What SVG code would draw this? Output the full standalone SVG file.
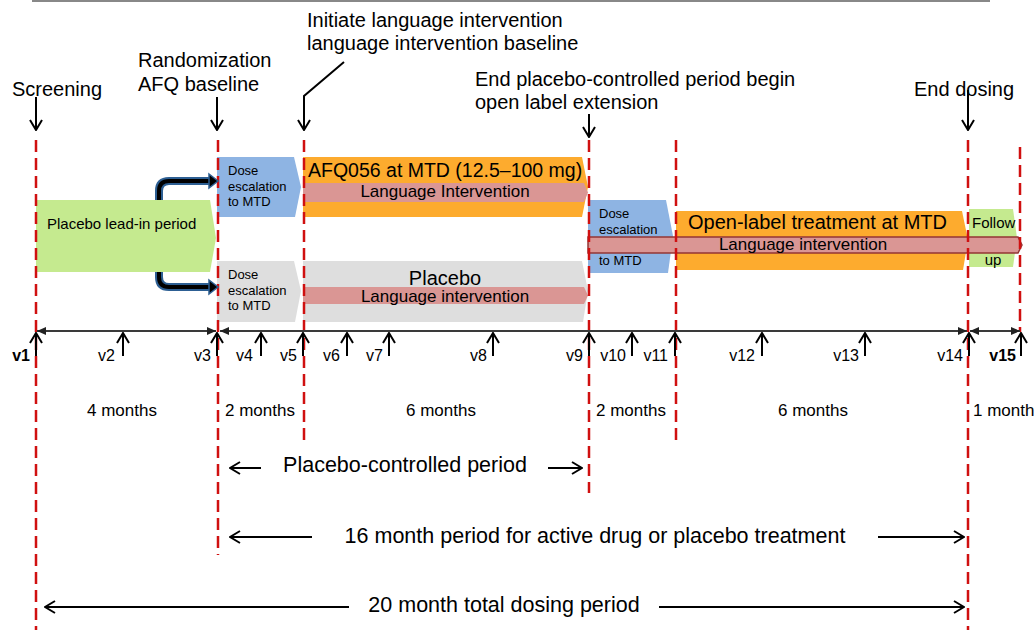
<svg xmlns="http://www.w3.org/2000/svg" width="1036" height="630" viewBox="0 0 1036 630">
<style>
text{font-family:"Liberation Sans",Arial,sans-serif;fill:#000}
.h{font-size:20px}
.s{font-size:13px}
.m{font-size:17px}
.v{font-size:16px}
.b{font-size:21.5px}
.dash{stroke:#d01010;stroke-width:2.5;stroke-dasharray:12 6;fill:none}
.arr{stroke:#000;stroke-width:2;fill:none}
.axis{stroke:#3a3a3a;stroke-width:2;fill:none}
.green{fill:#c5ea8f}
.blue{fill:#8eb4e3}
.grey{fill:#dedede}
.orange{fill:#fdab2e}
.pink{fill:#da9694}
</style>
<defs>
<marker id="open" viewBox="0 0 12 14" refX="11" refY="7" markerWidth="12" markerHeight="14" markerUnits="userSpaceOnUse" orient="auto-start-reverse">
<path d="M1,1 L11,7 L1,13" fill="none" stroke="#000" stroke-width="2"/>
</marker>
<marker id="tri" viewBox="0 0 9 8" refX="9" refY="4" markerWidth="9" markerHeight="8" markerUnits="userSpaceOnUse" orient="auto-start-reverse">
<path d="M0,0 L9,4 L0,8 z" fill="#222"/>
</marker>
</defs>

<line x1="32" y1="1" x2="990" y2="1" stroke="#888" stroke-width="2"/>

<!-- nodes -->
<g id="placebo-lead-in">
<polygon class="green" points="36,200 210,200 216,238 210,272 36,272"/>
<text x="47" y="229" style="font-size:15px">Placebo lead-in period</text>
</g>
<g id="dose-escalation-active">
<polygon class="blue" points="217,157 294,157 301,187 295,217 217,217"/>
<text class="s" x="228" y="175">Dose</text>
<text class="s" x="228" y="191">escalation</text>
<text class="s" x="228" y="206">to MTD</text>
</g>
<g id="dose-escalation-placebo">
<polygon class="grey" points="217,261 294,261 301,291 295,322 217,322"/>
<text class="s" x="228" y="279">Dose</text>
<text class="s" x="228" y="295">escalation</text>
<text class="s" x="228" y="310">to MTD</text>
</g>
<g id="afq056">
<polygon class="orange" points="303,157 582,157 588,187 582,217 303,217"/>
<text x="308" y="177" style="font-size:19.5px">AFQ056 at MTD (12.5–100 mg)</text>
<polygon class="pink" points="303,183 584,183 588,192.5 584,202 303,202"/>
<text class="m" x="445" y="197" text-anchor="middle">Language Intervention</text>
</g>
<g id="placebo">
<polygon class="grey" points="303,261 582,261 588,291 583,322 303,322"/>
<text class="h" x="445" y="285" text-anchor="middle">Placebo</text>
<polygon class="pink" points="303,287 584,287 588,295.5 584,304 303,304"/>
<text class="m" x="445" y="302" text-anchor="middle">Language intervention</text>
</g>
<g id="dose-escalation-open">
<polygon class="blue" points="588,200 666,200 673,236 668,273 588,273"/>
<text class="s" x="599" y="218">Dose</text>
<text class="s" x="599" y="234">escalation</text>
<text class="s" x="599" y="265">to MTD</text>
</g>
<g id="open-label">
<polygon class="orange" points="676,211 962,211 968,240 963,270 676,270"/>
<text class="h" x="688" y="229">Open-label treatment at MTD</text>
</g>
<g id="follow-up">
<polygon class="green" points="969,209 1013,209 1017,238 1013,267 969,267"/>
<text x="972" y="228" style="font-size:15px">Follow</text>
<text x="993" y="265" text-anchor="middle" style="font-size:15px">up</text>
</g>
<g id="language-intervention-open">
<polygon class="pink" points="588,237 1018,237 1022,245 1018,253 588,253" stroke="#943634" stroke-width="1.5"/>
<text class="m" x="803" y="250" text-anchor="middle">Language intervention</text>
</g>

<!-- milestone labels -->
<g id="labels">
<text class="h" x="12" y="96">Screening</text>
<text class="h" x="138" y="67">Randomization</text>
<text class="h" x="138" y="91">AFQ baseline</text>
<text class="h" x="307" y="27">Initiate language intervention</text>
<text class="h" x="307" y="50">language intervention baseline</text>
<text class="h" x="475" y="86">End placebo-controlled period begin</text>
<text class="h" x="475" y="109">open label extension</text>
<text class="h" x="914" y="96">End dosing</text>
</g>

<!-- red dashed visit lines -->
<g id="visit-lines">
<line class="dash" x1="36" y1="140" x2="36" y2="630"/>
<line class="dash" x1="218" y1="140" x2="218" y2="555"/>
<line class="dash" x1="304" y1="140" x2="304" y2="442"/>
<line class="dash" x1="589" y1="140" x2="589" y2="493"/>
<line class="dash" x1="676" y1="140" x2="676" y2="442"/>
<line class="dash" x1="968" y1="140" x2="968" y2="630"/>
<line class="dash" x1="1020" y1="147" x2="1020" y2="332"/>
</g>

<!-- connectors -->
<g id="connectors">
<path d="M159,200 V191 Q159,181 169,181 H210" fill="none" stroke="#2d5f93" stroke-width="8"/>
<path d="M159,200 V191 Q159,181 169,181 H210" fill="none" stroke="#000" stroke-width="4"/>
<polygon points="209,174 218,181 209,188" fill="#000" stroke="#2d5f93" stroke-width="1.5"/>
<path d="M159,272 V277 Q159,287 169,287 H210" fill="none" stroke="#2d5f93" stroke-width="8"/>
<path d="M159,272 V277 Q159,287 169,287 H210" fill="none" stroke="#000" stroke-width="4"/>
<polygon points="209,280 218,287 209,294" fill="#000" stroke="#2d5f93" stroke-width="1.5"/>

<line class="arr" x1="36" y1="97" x2="36" y2="130" marker-end="url(#open)"/>
<line class="arr" x1="217" y1="97" x2="217" y2="130" marker-end="url(#open)"/>
<polyline class="arr" points="344,62 304,96 304,130" marker-end="url(#open)"/>
<line class="arr" x1="589" y1="114" x2="589" y2="137" marker-end="url(#open)"/>
<line class="arr" x1="968" y1="90" x2="968" y2="130" marker-end="url(#open)"/>

<line class="axis" x1="37" y1="331" x2="216" y2="331" marker-start="url(#tri)" marker-end="url(#tri)"/>
<line class="axis" x1="220" y1="331" x2="967" y2="331" marker-start="url(#tri)" marker-end="url(#tri)"/>
<line class="axis" x1="970" y1="331" x2="1020" y2="331" marker-start="url(#tri)" marker-end="url(#tri)"/>

<g class="arr">
<line x1="36" y1="356" x2="36" y2="333" marker-end="url(#open)"/>
<line x1="123" y1="356" x2="123" y2="333" marker-end="url(#open)"/>
<line x1="217" y1="356" x2="217" y2="333" marker-end="url(#open)"/>
<line x1="261" y1="356" x2="261" y2="333" marker-end="url(#open)"/>
<line x1="303" y1="356" x2="303" y2="333" marker-end="url(#open)"/>
<line x1="347" y1="356" x2="347" y2="333" marker-end="url(#open)"/>
<line x1="389" y1="356" x2="389" y2="333" marker-end="url(#open)"/>
<line x1="493" y1="356" x2="493" y2="333" marker-end="url(#open)"/>
<line x1="589" y1="356" x2="589" y2="333" marker-end="url(#open)"/>
<line x1="632" y1="356" x2="632" y2="333" marker-end="url(#open)"/>
<line x1="675" y1="356" x2="675" y2="333" marker-end="url(#open)"/>
<line x1="762" y1="356" x2="762" y2="333" marker-end="url(#open)"/>
<line x1="865" y1="356" x2="865" y2="333" marker-end="url(#open)"/>
<line x1="969" y1="356" x2="969" y2="333" marker-end="url(#open)"/>
<line x1="1021" y1="356" x2="1021" y2="333" marker-end="url(#open)"/>
</g>

<line class="arr" x1="261" y1="468" x2="230" y2="468" marker-end="url(#open)"/>
<line class="arr" x1="548" y1="468" x2="582" y2="468" marker-end="url(#open)"/>
<line class="arr" x1="312" y1="537" x2="230" y2="537" marker-end="url(#open)"/>
<line class="arr" x1="878" y1="537" x2="964" y2="537" marker-end="url(#open)"/>
<line class="arr" x1="349" y1="607" x2="45" y2="607" marker-end="url(#open)"/>
<line class="arr" x1="659" y1="607" x2="964" y2="607" marker-end="url(#open)"/>
</g>

<!-- visit labels -->
<g id="visit-labels" class="v" text-anchor="end">
<text x="30" y="361" font-weight="bold">v1</text>
<text x="115" y="361">v2</text>
<text x="211" y="361">v3</text>
<text x="253" y="361">v4</text>
<text x="297" y="361">v5</text>
<text x="340" y="361">v6</text>
<text x="383" y="361">v7</text>
<text x="487" y="361">v8</text>
<text x="583" y="361">v9</text>
<text x="626" y="361">v10</text>
<text x="668" y="361">v11</text>
<text x="755" y="361">v12</text>
<text x="859" y="361">v13</text>
<text x="963" y="361">v14</text>
<text x="1016" y="361" font-weight="bold">v15</text>
</g>

<!-- durations -->
<g id="durations" class="m">
<text x="122" y="416" text-anchor="middle">4 months</text>
<text x="260" y="416" text-anchor="middle">2 months</text>
<text x="441" y="416" text-anchor="middle">6 months</text>
<text x="631" y="416" text-anchor="middle">2 months</text>
<text x="813" y="416" text-anchor="middle">6 months</text>
<text x="973" y="416">1 month</text>
</g>

<g id="periods" class="b" text-anchor="middle">
<text x="405" y="472">Placebo-controlled period</text>
<text x="595" y="543">16 month period for active drug or placebo treatment</text>
<text x="504" y="612">20 month total dosing period</text>
</g>
</svg>
